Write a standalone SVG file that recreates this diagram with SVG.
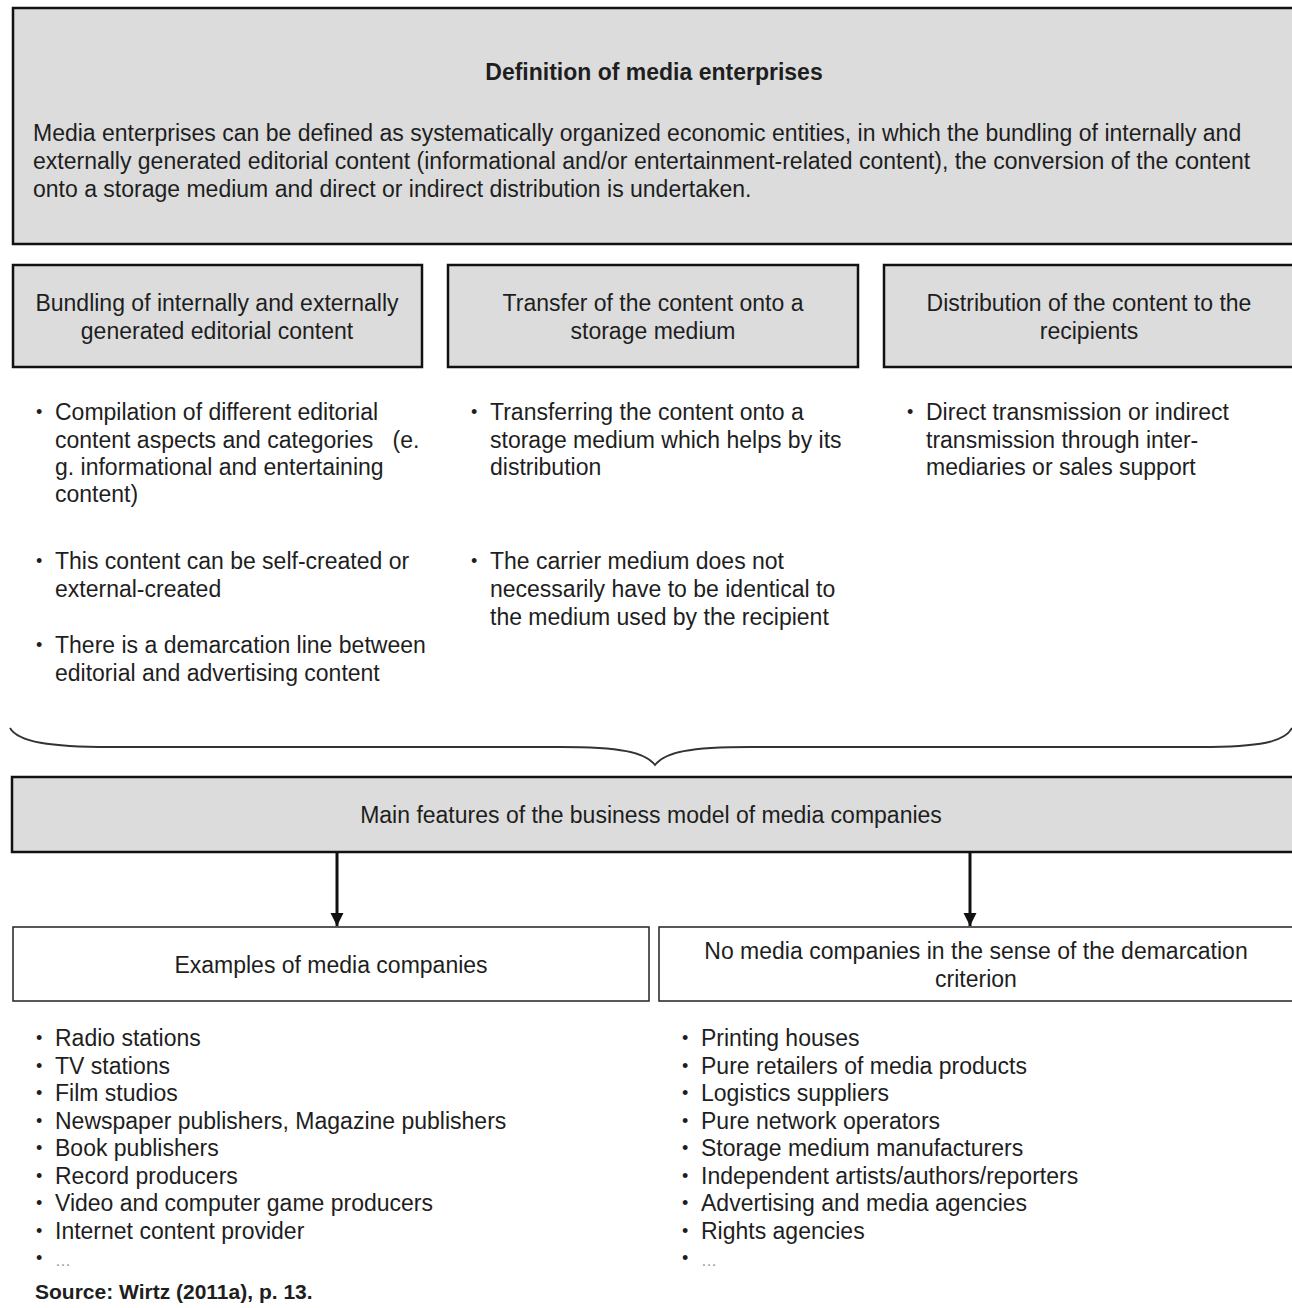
<svg xmlns="http://www.w3.org/2000/svg" width="1292" height="1308" viewBox="0 0 1292 1308">
<style>
text{font-family:"Liberation Sans",Arial,sans-serif;fill:#1e1e1e;font-size:23px}
.b{font-weight:bold}
.c{text-anchor:middle}
.bul{font-size:18px}
.gray{fill:#dcdcdc;stroke:#111;stroke-width:2.5}
.white{fill:#fff;stroke:#222;stroke-width:1.5}
.conn{stroke:#111;stroke-width:3;fill:none}
</style>
<defs>
<marker id="ah" viewBox="0 0 10 10" refX="10" refY="5" markerWidth="4.5" markerHeight="4.5" orient="auto" markerUnits="strokeWidth">
<path d="M0,0 L10,5 L0,10 z" fill="#111"/>
</marker>
</defs>
<rect width="1292" height="1308" fill="#fff"/>

<g id="definition">
<rect class="gray" x="13" y="8" width="1300" height="236"/>
<text class="b c" x="654" y="80">Definition of media enterprises</text>
<text x="33" y="141">Media enterprises can be defined as systematically organized economic entities, in which the bundling of internally and</text>
<text x="33" y="169">externally generated editorial content (informational and/or entertainment-related content), the conversion of the content</text>
<text x="33" y="197">onto a storage medium and direct or indirect distribution is undertaken.</text>
</g>

<g id="bundling">
<rect class="gray" x="13" y="265" width="409" height="102"/>
<text class="c" x="217" y="311">Bundling of internally and externally</text>
<text class="c" x="217" y="339">generated editorial content</text>
</g>
<g id="transfer">
<rect class="gray" x="448" y="265" width="410" height="102"/>
<text class="c" x="653" y="311">Transfer of the content onto a</text>
<text class="c" x="653" y="339">storage medium</text>
</g>
<g id="distribution">
<rect class="gray" x="884" y="265" width="420" height="102"/>
<text class="c" x="1089" y="311">Distribution of the content to the</text>
<text class="c" x="1089" y="339">recipients</text>
</g>

<g id="bundling-list">
<text class="bul" x="36" y="418">•</text>
<text x="55" y="420">Compilation of different editorial</text>
<text x="55" y="448" style="white-space:pre">content aspects and categories   (e.</text>
<text x="55" y="475">g. informational and entertaining</text>
<text x="55" y="502">content)</text>
<text class="bul" x="36" y="567">•</text>
<text x="55" y="569">This content can be self-created or</text>
<text x="55" y="597">external-created</text>
<text class="bul" x="36" y="651">•</text>
<text x="55" y="653">There is a demarcation line between</text>
<text x="55" y="681">editorial and advertising content</text>
</g>
<g id="transfer-list">
<text class="bul" x="471" y="418">•</text>
<text x="490" y="420">Transferring the content onto a</text>
<text x="490" y="448">storage medium which helps by its</text>
<text x="490" y="475">distribution</text>
<text class="bul" x="471" y="567">•</text>
<text x="490" y="569">The carrier medium does not</text>
<text x="490" y="597">necessarily have to be identical to</text>
<text x="490" y="625">the medium used by the recipient</text>
</g>
<g id="distribution-list">
<text class="bul" x="907" y="418">•</text>
<text x="926" y="420">Direct transmission or indirect</text>
<text x="926" y="448">transmission through inter-</text>
<text x="926" y="475">mediaries or sales support</text>
</g>

<g id="brace">
<path d="M10,728 C18,742 50,747 110,747 L560,747 C620,747 645,752 655,765 C665,752 690,747 750,747 L1200,747 C1260,747 1285,742 1292,728" fill="none" stroke="#333" stroke-width="1.8"/>
</g>

<g id="main-features">
<rect class="gray" x="12" y="777" width="1300" height="75"/>
<text class="c" x="651" y="823">Main features of the business model of media companies</text>
</g>

<g id="connectors">
<line class="conn" x1="337" y1="852" x2="337" y2="926" marker-end="url(#ah)"/>
<line class="conn" x1="970" y1="852" x2="970" y2="926" marker-end="url(#ah)"/>
</g>

<g id="examples">
<rect class="white" x="13" y="927" width="636" height="74"/>
<text class="c" x="331" y="973">Examples of media companies</text>
</g>
<g id="no-media">
<rect class="white" x="659" y="927" width="650" height="74"/>
<text class="c" x="976" y="959">No media companies in the sense of the demarcation</text>
<text class="c" x="976" y="987">criterion</text>
</g>

<g id="examples-list">
<text class="bul" x="36" y="1044">•</text><text x="55" y="1046">Radio stations</text>
<text class="bul" x="36" y="1071.5">•</text><text x="55" y="1073.5">TV stations</text>
<text class="bul" x="36" y="1099">•</text><text x="55" y="1101">Film studios</text>
<text class="bul" x="36" y="1126.5">•</text><text x="55" y="1128.5">Newspaper publishers, Magazine publishers</text>
<text class="bul" x="36" y="1154">•</text><text x="55" y="1156">Book publishers</text>
<text class="bul" x="36" y="1181.5">•</text><text x="55" y="1183.5">Record producers</text>
<text class="bul" x="36" y="1209">•</text><text x="55" y="1211">Video and computer game producers</text>
<text class="bul" x="36" y="1236.5">•</text><text x="55" y="1238.5">Internet content provider</text>
<text class="bul" x="36" y="1264">•</text><text x="55" y="1266" style="fill:#999;font-size:16px">…</text>
</g>
<g id="no-media-list">
<text class="bul" x="682" y="1044">•</text><text x="701" y="1046">Printing houses</text>
<text class="bul" x="682" y="1071.5">•</text><text x="701" y="1073.5">Pure retailers of media products</text>
<text class="bul" x="682" y="1099">•</text><text x="701" y="1101">Logistics suppliers</text>
<text class="bul" x="682" y="1126.5">•</text><text x="701" y="1128.5">Pure network operators</text>
<text class="bul" x="682" y="1154">•</text><text x="701" y="1156">Storage medium manufacturers</text>
<text class="bul" x="682" y="1181.5">•</text><text x="701" y="1183.5">Independent artists/authors/reporters</text>
<text class="bul" x="682" y="1209">•</text><text x="701" y="1211">Advertising and media agencies</text>
<text class="bul" x="682" y="1236.5">•</text><text x="701" y="1238.5">Rights agencies</text>
<text class="bul" x="682" y="1264">•</text><text x="701" y="1266" style="fill:#999;font-size:16px">…</text>
</g>

<text class="b" x="35" y="1299" style="font-size:21px">Source: Wirtz (2011a), p. 13.</text>
</svg>
